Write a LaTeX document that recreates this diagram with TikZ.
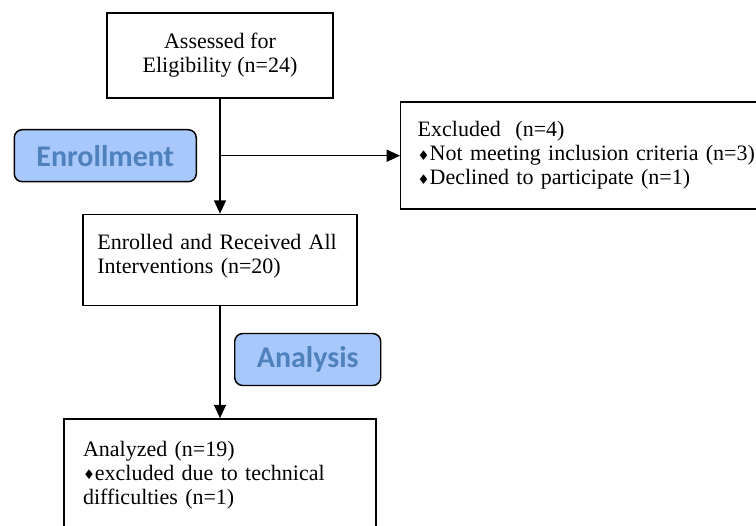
\documentclass[tikz,border=0pt]{standalone}
\usepackage{fontspec}
\setmainfont{Liberation Serif}
\newfontfamily\stagefont{Carlito}
\newfontfamily\symfont{DejaVu Sans}
\usetikzlibrary{arrows.meta, positioning}

\definecolor{stagefill}{RGB}{168,200,252}
\definecolor{stagetext}{RGB}{79,129,189}
\newcommand{\bul}{{\symfont\fontsize{10}{10}\selectfont\raisebox{0.5pt}{♦}}}

\begin{document}
\begin{tikzpicture}[
    every node/.style={font=\fontsize{16.5}{18}\selectfont},
    box/.style={draw, line width=1.1pt, inner ysep=0pt},
    stage/.style={draw, line width=1.1pt, rounded corners=6pt, fill=stagefill, text=stagetext,
        font=\stagefont\bfseries\fontsize{22.5}{22.5}\selectfont, minimum height=39pt},
    link/.style={-{Triangle[length=10pt,width=9pt]}, line width=1.1pt}
]

\useasboundingbox (0,0) rectangle (567pt,-393.75pt);
\clip (0,0) rectangle (567pt,-393.75pt);

\node[box, align=center, minimum width=169.5pt, minimum height=63.75pt] (assess) at (165pt,-41.6pt)
    {Assessed for\\Eligibility (n=24)};
\node[box, text width=184pt, inner xsep=10.75pt, align=left, minimum height=68.25pt, below=86.25pt of assess] (enrol)
    {Enrolled and Received All\\Interventions (n=20)\\[-9pt]\mbox{}};
\node[box, text width=205.5pt, inner xsep=14.25pt, align=left, minimum height=84pt, below=84pt of enrol] (analyzed)
    {Analyzed (n=19)\\\bul excluded due to technical\\difficulties (n=1)};

\coordinate[below=42.75pt of assess] (split);
\coordinate[below=40pt of enrol] (gap2);

\node[box, text width=270pt, inner xsep=12.75pt, align=left, minimum height=80.25pt, right=135pt of split] (excl)
    {Excluded\ \ (n=4)\\\bul Not meeting inclusion criteria (n=3)\\\bul Declined to participate (n=1)};

\node[stage, minimum width=136.5pt, left=17.25pt of split] (enrollment) {Enrollment};
\node[stage, minimum width=109.5pt, right=10.5pt of gap2] (analysis) {Analysis};

\draw[link] (assess) -- (enrol);
\draw[link] (split) -- (excl);
\draw[link] (enrol) -- (analyzed);

\end{tikzpicture}
\end{document}
